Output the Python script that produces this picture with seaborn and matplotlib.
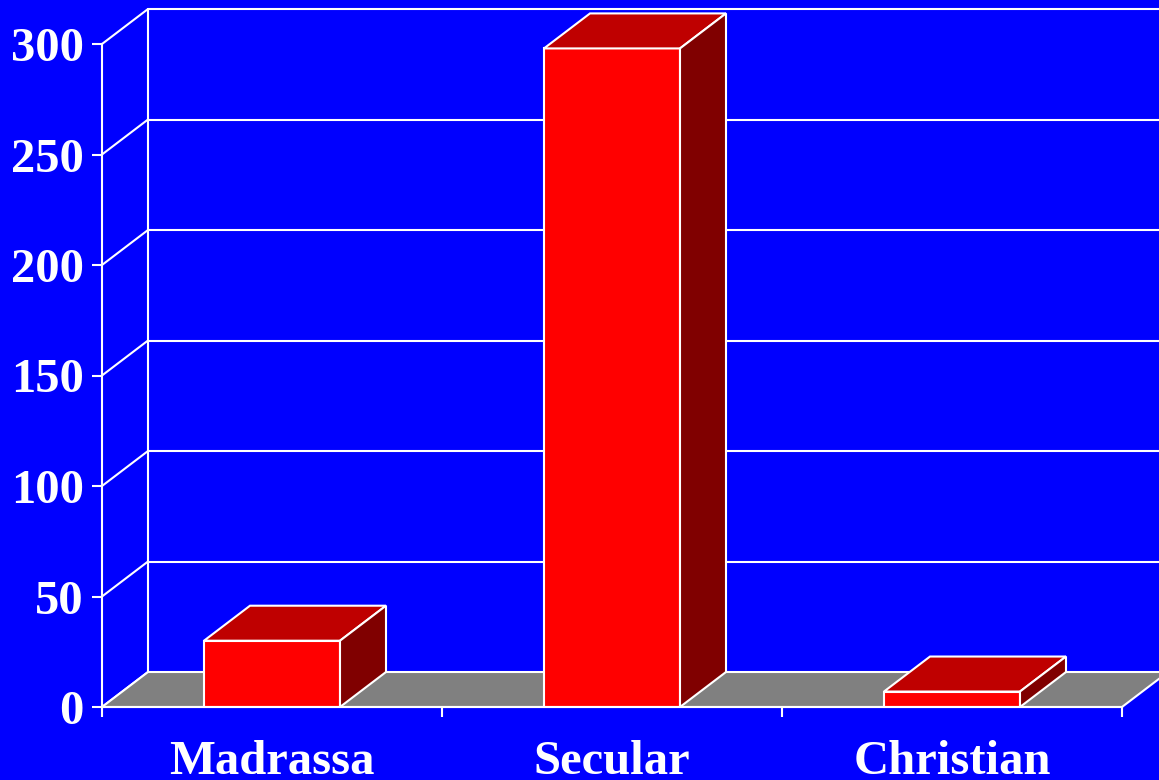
import matplotlib
matplotlib.use("Agg")
import matplotlib.pyplot as plt
import seaborn as sns
import pandas as pd
from matplotlib.patches import Polygon

categories = ["Madrassa", "Secular", "Christian"]
values = [30, 298, 7]
yticks = [0, 50, 100, 150, 200, 250, 300]

BLUE = "#0000FF"
FRONT = "#FF0000"
TOP = "#BF0000"
SIDE = "#800000"
FLOOR = "#808080"
W = "white"

sns.set_theme(style="white")
plt.rcParams["font.family"] = ["Liberation Serif", "DejaVu Serif"]

fig = plt.figure(figsize=(11.59, 7.80), dpi=100, facecolor=BLUE)
ax = fig.add_axes([102 / 1159, 73 / 780, 1020 / 1159, 663 / 780])
ax.set_facecolor("none")

df = pd.DataFrame({"cat": categories, "val": values})
ax.set_xlim(-0.5, 2.5)
ax.set_ylim(0, 300)

# 3D offsets in data units
DX = 46 / 340.0
DY = 35 / (663 / 300.0)

x0, x1 = -0.5, 2.5
# floor
ax.add_patch(Polygon([(x0, 0), (x1, 0), (x1 + DX, DY), (x0 + DX, DY)],
                     closed=True, facecolor=FLOOR, edgecolor=W, lw=1.5,
                     clip_on=False, zorder=1))
# back wall grid lines and side diagonals
for t in yticks:
    if t > 0:
        ax.plot([x0 + DX, x1 + DX + 0.5], [t + DY, t + DY], color=W, lw=1.5,
                clip_on=False, zorder=0.5)
    ax.plot([x0, x0 + DX], [t, t + DY], color=W, lw=1.5, clip_on=False, zorder=0.5)
ax.plot([x0 + DX, x0 + DX], [DY, 300 + DY], color=W, lw=1.5, clip_on=False, zorder=0.5)

# bars (front faces)
sns.barplot(data=df, x="cat", y="val", ax=ax, color=FRONT, width=0.4,
            saturation=1, edgecolor=W, linewidth=1.5, zorder=3)
for p in ax.patches:
    if isinstance(p, Polygon):
        continue
    bx, by = p.get_x(), p.get_y()
    bw, bh = p.get_width(), p.get_height()
    top = by + bh
    ax.add_patch(Polygon([(bx, top), (bx + bw, top), (bx + bw + DX, top + DY), (bx + DX, top + DY)],
                         closed=True, facecolor=TOP, edgecolor=W, lw=1.5,
                         clip_on=False, zorder=3))
    ax.add_patch(Polygon([(bx + bw, by), (bx + bw + DX, by + DY), (bx + bw + DX, top + DY), (bx + bw, top)],
                         closed=True, facecolor=SIDE, edgecolor=W, lw=1.5,
                         clip_on=False, zorder=3))

# axes styling
for s in ["top", "right"]:
    ax.spines[s].set_visible(False)
for s in ["left", "bottom"]:
    ax.spines[s].set_color(W)
    ax.spines[s].set_linewidth(1.5)
    ax.spines[s].set_zorder(4)

ax.set_yticks(yticks)
ax.set_yticklabels([str(t) for t in yticks])
ax.set_xticks([-0.5, 0.5, 1.5, 2.5], minor=False)
ax.set_xticklabels([""] * 4)
ax.set_xticks([0, 1, 2], minor=True)
ax.set_xticklabels(categories, minor=True)
ax.tick_params(axis="x", which="major", bottom=True, length=7, width=1.5,
               color=W, direction="out")
ax.tick_params(axis="x", which="minor", bottom=False, length=0, pad=24,
               labelsize=35, labelcolor=W)
ax.tick_params(axis="y", left=True, length=7, width=1.5, color=W, direction="out",
               pad=6, labelsize=35, labelcolor=W)
for lab in ax.get_xticklabels(minor=True) + ax.get_yticklabels():
    lab.set_fontweight("bold")
ax.set_xlabel("")
ax.set_ylabel("")
ax.grid(False)

fig.savefig("out.png", dpi=100, facecolor=BLUE)
